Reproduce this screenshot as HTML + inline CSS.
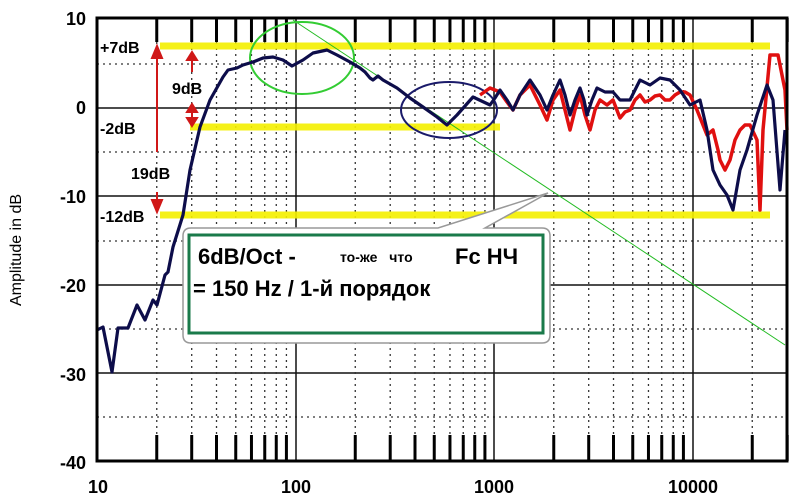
<!DOCTYPE html>
<html><head><meta charset="utf-8"><style>
html,body{margin:0;padding:0;background:#fff;}
svg{display:block;font-family:"Liberation Sans",Arial,sans-serif;}
</style></head><body>
<svg width="800" height="500" viewBox="0 0 800 500" xmlns="http://www.w3.org/2000/svg">
<rect width="800" height="500" fill="#fff"/>
<g id="grid">
<g stroke="#333" stroke-width="1.2" stroke-dasharray="2,4">
<line x1="97" y1="64" x2="787" y2="64"/><line x1="97" y1="152" x2="787" y2="152"/>
<line x1="97" y1="241" x2="787" y2="241"/><line x1="97" y1="329" x2="787" y2="329"/>
<line x1="97" y1="417" x2="787" y2="417"/>
</g>
<g stroke="#111" stroke-width="1.5">
<line x1="97" y1="108" x2="787" y2="108"/><line x1="97" y1="196" x2="787" y2="196"/>
<line x1="97" y1="285" x2="787" y2="285"/><line x1="97" y1="373" x2="787" y2="373"/>
<line x1="296" y1="18" x2="296" y2="461"/><line x1="494" y1="18" x2="494" y2="461"/><line x1="693" y1="18" x2="693" y2="461"/>
</g>
<g id="vminor" stroke="#333" stroke-width="1.3" stroke-dasharray="2,4"></g>
<g id="vticks" stroke="#000" stroke-width="3"></g>
</g>
<g stroke="#f5f000" stroke-width="7" opacity="0.9">
<line x1="160" y1="46" x2="770" y2="46"/>
<line x1="190" y1="127" x2="500" y2="127"/>
<line x1="160" y1="215" x2="770" y2="215"/>
</g>
<line x1="293" y1="20" x2="785" y2="345" stroke="#22bb22" stroke-width="1"/>
<ellipse cx="302" cy="58" rx="52" ry="36" fill="none" stroke="#33cc33" stroke-width="2"/>
<ellipse cx="449" cy="110" rx="48" ry="28" fill="none" stroke="#1a1a6a" stroke-width="2"/>
<polyline fill="none" stroke="#e01010" stroke-width="3.5" stroke-linejoin="round" points="480,95 490,88 500,92 507,102 513,110 520,95 530,85 540,105 547,120 553,100 560,90 565,110 570,130 575,110 580,95 585,115 590,130 595,110 600,100 607,105 613,100 620,118 625,112 630,110 635,100 640,95 645,102 650,100 655,96 660,95 665,100 670,100 675,95 680,92 685,92 690,95 697,110 703,125 707,135 713,130 718,150 720,160 725,170 730,160 735,140 740,130 745,125 750,125 757,140 760,210 763,130 770,55 778,55 785,90 787,130"/>
<polyline fill="none" stroke="#0d0d4a" stroke-width="3.2" stroke-linejoin="round" points="97,330 103,327 112,372 118,328 128,328 137,305 145,320 153,300 157,305 165,275 168,272 173,247 183,215 190,170 200,127 210,100 223,77 228,70 237,68 243,65 253,62 263,58 273,57 283,60 292,66 303,60 313,53 327,50 337,55 350,62 360,68 365,72 370,78 373,80 378,76 383,80 390,84 397,88 410,98 423,107 437,117 447,125 457,115 473,97 490,105 495,98 500,90 507,100 513,110 520,95 530,80 540,95 547,110 553,95 560,80 565,95 570,115 575,100 580,88 584,100 587,115 592,100 597,88 605,92 613,92 620,100 630,100 640,80 650,85 660,78 670,80 680,90 690,105 700,100 707,130 713,170 720,185 727,195 733,210 740,170 747,150 757,115 767,85 773,100 780,190 785,130"/>
<rect x="97" y="18" width="690" height="443" fill="none" stroke="#000" stroke-width="3"/>
<g stroke="#d01818" stroke-width="2" fill="#d01818">
<line x1="157" y1="50" x2="157" y2="152"/>
<polygon points="152,58 162,58 157,46"/>
<line x1="157" y1="192" x2="157" y2="212"/><polygon points="152,200 162,200 157,212"/>
<line x1="192" y1="56" x2="192" y2="72"/><polygon points="187,60 197,60 192,52"/>
<line x1="192" y1="104" x2="192" y2="126"/><polygon points="187,112 197,112 192,104"/><polygon points="187,118 197,118 192,126"/>
</g>
<g font-weight="bold" font-size="16" fill="#000">
<text x="100" y="53">+7dB</text>
<text x="172" y="94">9dB</text>
<text x="100" y="134">-2dB</text>
<text x="131" y="179">19dB</text>
<text x="100" y="222">-12dB</text>
</g>
<g font-size="18" font-weight="bold" fill="#000" text-anchor="end">
<text x="86" y="25">10</text><text x="86" y="114">0</text><text x="86" y="203">-10</text>
<text x="86" y="292">-20</text><text x="86" y="381">-30</text><text x="86" y="469">-40</text>
</g>
<g font-size="18" font-weight="bold" fill="#000" text-anchor="middle">
<text x="98" y="493">10</text><text x="296" y="493">100</text><text x="494" y="493">1000</text><text x="693" y="493">10000</text>
</g>
<text transform="translate(21,250) rotate(-90)" font-size="16" text-anchor="middle" fill="#000">Amplitude in dB</text>
<path d="M191,228 L438,228 L548,193 L485,228 L542,228 Q550,228 550,236 L550,335 Q550,343 542,343 L191,343 Q183,343 183,335 L183,236 Q183,228 191,228 Z" fill="#fff" stroke="#999" stroke-width="1.5"/>
<rect x="189" y="235" width="354" height="98" fill="none" stroke="#1a7a4a" stroke-width="3"/>
<text x="198" y="264" font-size="22" font-weight="bold" fill="#000">6dB/Oct -</text>
<text x="340" y="262" font-size="14" font-weight="bold" fill="#000" word-spacing="8">то-же что</text>
<text x="455" y="264" font-size="22" font-weight="bold" fill="#000">Fc НЧ</text>
<text x="193" y="296" font-size="22" font-weight="bold" fill="#000">= 150 Hz / 1-й порядок</text>
<script>
(function(){
var ns="http://www.w3.org/2000/svg";
var vm=document.getElementById("vminor"),vt=document.getElementById("vticks");
var decs=[10,100,1000,10000];
function X(f){return 97+198.5*Math.log10(f/10);}
decs.forEach(function(d){for(var m=2;m<=9;m++){var f=d*m;if(f>30000)return;var x=X(f);
var l=document.createElementNS(ns,"line");l.setAttribute("x1",x);l.setAttribute("x2",x);l.setAttribute("y1",18);l.setAttribute("y2",461);vm.appendChild(l);
[[18,42],[435,461]].forEach(function(r){var t=document.createElementNS(ns,"line");t.setAttribute("x1",x);t.setAttribute("x2",x);t.setAttribute("y1",r[0]);t.setAttribute("y2",r[1]);vt.appendChild(t);});
}});
})();
</script>
</svg>
</body></html>
